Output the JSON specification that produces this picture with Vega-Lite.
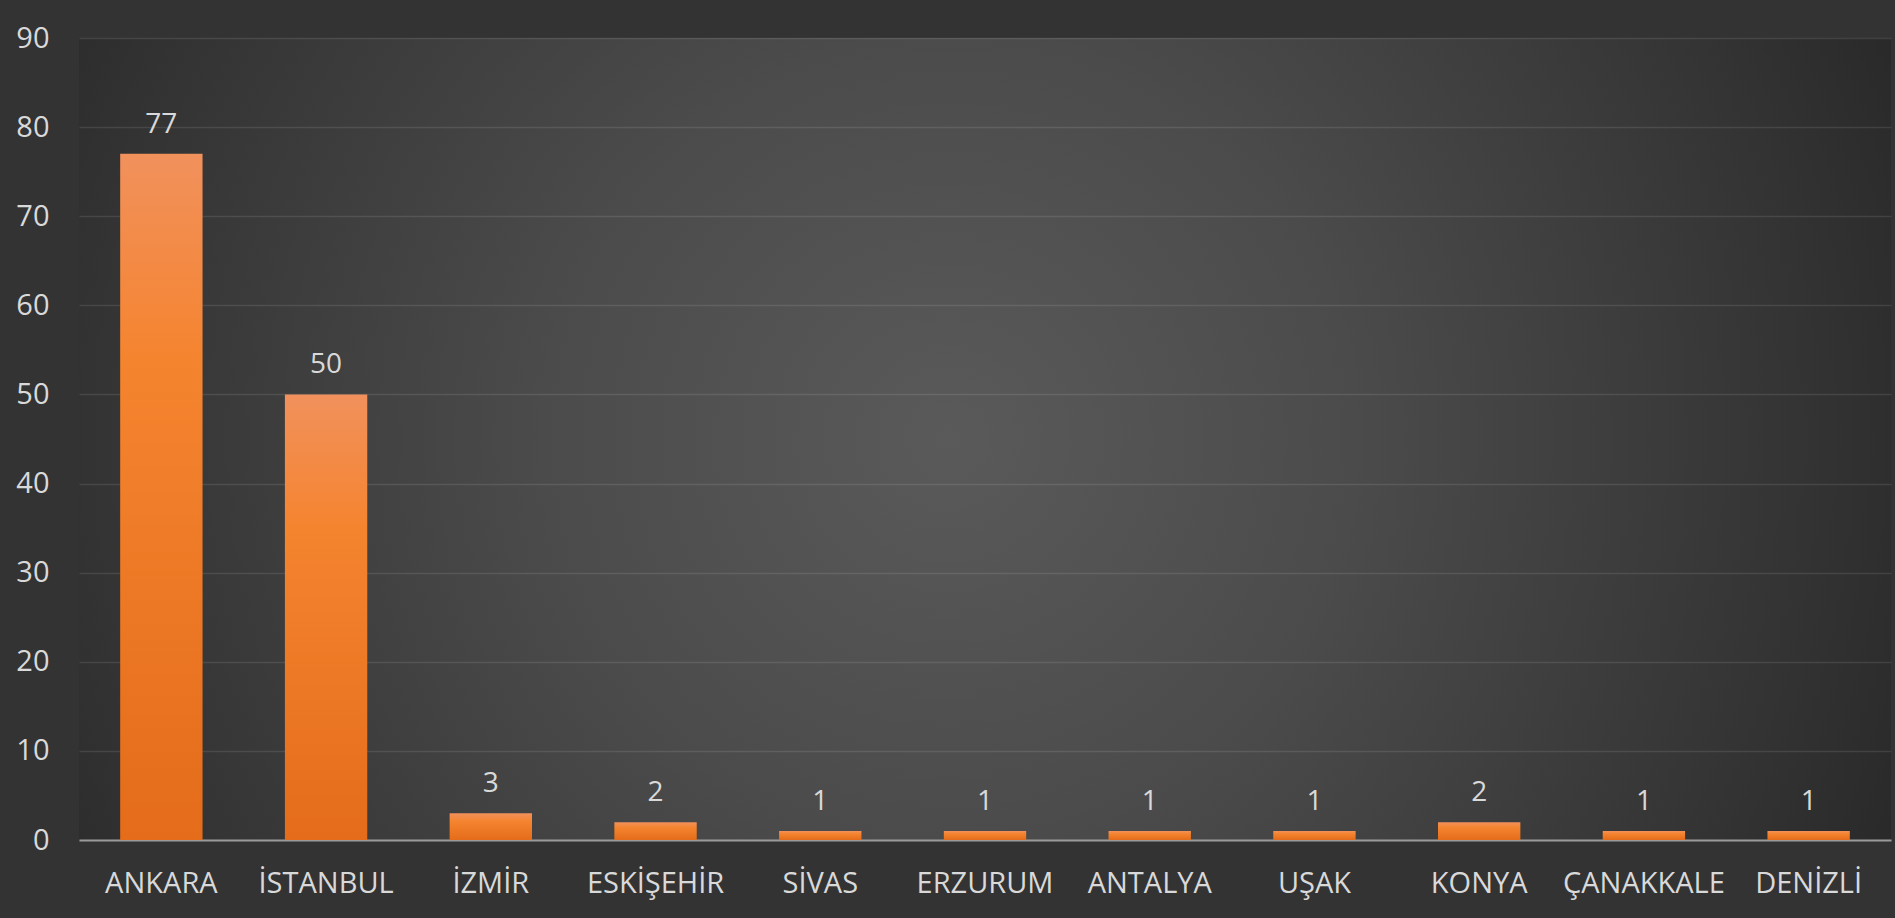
{
  "$schema": "https://vega.github.io/schema/vega-lite/v6.json",
  "width": 1812,
  "height": 802,
  "autosize": {"type": "none"},
  "padding": {"left": 79, "top": 38, "right": 4, "bottom": 78},
  "background": "#333333",
  "view": {
    "stroke": null,
    "fill": {
      "gradient": "radial",
      "x1": 0.48, "y1": 0.5, "r1": 0,
      "x2": 0.48, "y2": 0.5, "r2": 0.56,
      "stops": [
        {"offset": 0, "color": "#5a5a5a"},
        {"offset": 0.4, "color": "#4b4b4b"},
        {"offset": 0.85, "color": "#333333"},
        {"offset": 1, "color": "#2a2a2a"}
      ]
    }
  },
  "data": {
    "values": [
      {"city": "ANKARA", "count": 77},
      {"city": "İSTANBUL", "count": 50},
      {"city": "İZMİR", "count": 3},
      {"city": "ESKİŞEHİR", "count": 2},
      {"city": "SİVAS", "count": 1},
      {"city": "ERZURUM", "count": 1},
      {"city": "ANTALYA", "count": 1},
      {"city": "UŞAK", "count": 1},
      {"city": "KONYA", "count": 2},
      {"city": "ÇANAKKALE", "count": 1},
      {"city": "DENİZLİ", "count": 1}
    ]
  },
  "encoding": {
    "x": {
      "field": "city",
      "type": "nominal",
      "sort": null,
      "scale": {"paddingInner": 0.5, "paddingOuter": 0.25},
      "axis": {
        "title": null,
        "labelAngle": 0,
        "labelFont": "Open Sans",
        "labelFontSize": 29,
        "labelColor": "#d9d9d9",
        "labelPadding": 29,
        "ticks": false,
        "grid": false,
        "domainColor": "#9a9a9a",
        "domainWidth": 2
      }
    },
    "y": {
      "field": "count",
      "type": "quantitative",
      "scale": {"domain": [0, 90], "nice": false},
      "axis": {
        "title": null,
        "values": [0, 10, 20, 30, 40, 50, 60, 70, 80, 90],
        "labelFont": "Open Sans",
        "labelFontSize": 29,
        "labelColor": "#d9d9d9",
        "labelPadding": 30,
        "ticks": false,
        "domain": false,
        "gridColor": "#ffffff",
        "gridOpacity": 0.1,
        "gridWidth": 1.5
      }
    }
  },
  "layer": [
    {
      "mark": {
        "type": "bar",
        "fill": {
          "gradient": "linear",
          "x1": 0, "y1": 0, "x2": 0, "y2": 1,
          "stops": [
            {"offset": 0, "color": "#f1915c"},
            {"offset": 0.3, "color": "#f5842f"},
            {"offset": 1, "color": "#e46c1a"}
          ]
        }
      }
    },
    {
      "mark": {
        "type": "text",
        "baseline": "alphabetic",
        "dy": -21,
        "font": "Open Sans",
        "fontSize": 28,
        "color": "#d9d9d9"
      },
      "encoding": {
        "text": {"field": "count", "type": "quantitative"}
      }
    }
  ]
}
